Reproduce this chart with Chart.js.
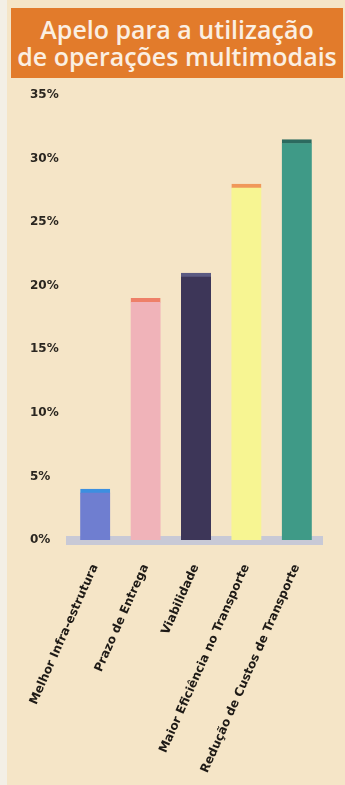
<!DOCTYPE html>
<html>
<head>
<meta charset="utf-8">
<script src="https://cdn.jsdelivr.net/npm/chart.js@4.4.0/dist/chart.umd.min.js"></script>
<style>
  html, body { margin: 0; padding: 0; }
  body { width: 345px; height: 785px; background: #f5e5c7; position: relative; overflow: hidden; }
  #edge { position: absolute; left: 0; top: 0; width: 7px; height: 785px; background: #f3efe6; }
  #title {
    position: absolute; left: 11px; top: 8px; width: 332px; height: 70px;
    background: #e27b2b; color: #fbefe2; text-align: center;
    font-family: "Open Sans", sans-serif; font-size: 25px; font-weight: 600; line-height: 27px;
    padding-top: 8px; box-sizing: border-box; white-space: nowrap;
  }
  #wrap { position: absolute; left: 0; top: 80px; width: 345px; height: 705px; }
</style>
</head>
<body>
<div id="edge"></div>
<div id="title">Apelo para a utilização<br>de operações multimodais</div>
<div id="wrap"><canvas id="chart"></canvas></div>
<script>
// dados
const categorias = ['Melhor Infra-estrutura', 'Prazo de Entrega', 'Viabilidade', 'Maior Eficiência no Transporte', 'Redução de Custos de Transporte'];
const valores = [4, 19, 21, 28, 31.5];
const corBarras = ['#6f7ed0', '#f0b3b9', '#3d3658', '#f7f592', '#3f9a87'];
const corTopo = ['#3c8fe0', '#ee8068', '#5b5a82', '#f0985a', '#2c6a5f'];
const ticksY = [0, 5, 10, 15, 20, 25, 30, 35];

const ctx = document.getElementById('chart').getContext('2d');
new Chart(ctx, {
  type: 'bar',
  data: {
    labels: categorias,
    datasets: [{
      data: valores,
      backgroundColor: corBarras,
      borderColor: corTopo,
      borderWidth: { top: 4, left: 0, right: 0, bottom: 0 },
      borderSkipped: 'bottom',
      barThickness: 30
    }]
  },
  options: {
    responsive: true,
    maintainAspectRatio: false,
    animation: false,
    layout: { padding: { left: 30, right: 23, top: 15, bottom: 0 } },
    plugins: {
      legend: { display: false },
      tooltip: { enabled: false }
    },
    scales: {
      x: {
        grid: { display: false, drawTicks: false },
        border: { display: true, color: '#c8c9d6', width: 9 },
        ticks: {
          color: '#1e1a16',
          font: { family: 'DejaVu Sans', size: 12, weight: 'bold' },
          minRotation: 66, maxRotation: 66, padding: 22
        },
        afterFit: s => { s.height = 245; }
      },
      y: {
        min: 0, max: 35,
        afterBuildTicks: s => { s.ticks = ticksY.map(v => ({ value: v })); },
        grid: { display: false, drawTicks: false },
        border: { display: false },
        ticks: {
          color: '#2a2620',
          crossAlign: 'far',
          padding: 0,
          font: { family: 'DejaVu Sans', size: 12, weight: 'bold' },
          callback: v => v + '%'
        },
        afterFit: s => { s.width = 40; }
      }
    }
  }
});
</script>
</body>
</html>
